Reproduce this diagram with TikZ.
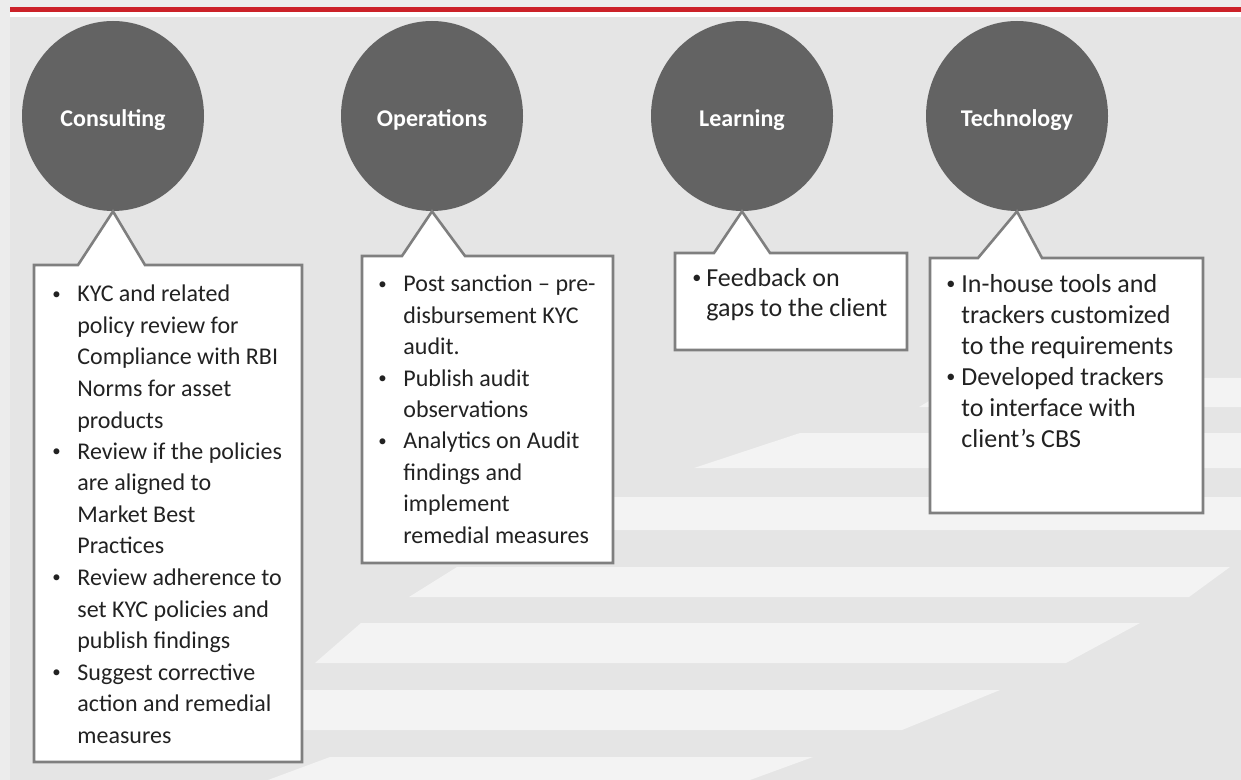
\documentclass[tikz,border=0pt]{standalone}
\usepackage{fontspec}
\setmainfont{Carlito}
\usepackage{tikz}
\usetikzlibrary{shapes.geometric}

\definecolor{outergray}{HTML}{ECECEC}
\definecolor{panelgray}{HTML}{E5E5E5}
\definecolor{stripegray}{HTML}{F3F3F3}
\definecolor{hubgray}{HTML}{636363}
\definecolor{edgegray}{HTML}{7F7F7F}
\definecolor{barred}{HTML}{CC2229}
\definecolor{txtgray}{HTML}{222222}

% one bullet item: #1 = indent of the text, #2 = lines
\newcommand{\smallbul}{\raisebox{0.12em}{\scalebox{0.7}{\textbullet}}}
\newcommand{\bitem}[2]{\par\noindent\hangindent=#1\hangafter=1\makebox[#1][l]{\smallbul}#2}
\newcommand{\blist}[1]{\parbox[t]{200pt}{\raggedright #1}}

\begin{document}
\begin{tikzpicture}[x=0.5pt, y=-0.5pt,
  hub/.style={ellipse, fill=hubgray, minimum width=91pt, minimum height=95pt,
    inner sep=0pt, text=white, text height=11pt, text depth=0pt,
    font=\bfseries\fontsize{12}{14}\selectfont},
  callout/.style={draw=edgegray, line width=1.3pt, fill=white, line join=miter},
  bullets/.style={anchor=base west, inner sep=0pt, text=txtgray}]
  \useasboundingbox (0,0) rectangle (1241,780);
  % background
  \fill[outergray] (0,0) rectangle (1241,780);
  \fill[white] (10,12) rectangle (1241,17);
  \fill[panelgray] (10,17) rectangle (1241,780);
  \draw[barred, line width=2.3pt] (10,9.5) -- (1241,9.5);
  % faint stripes
  \foreach \yt/\yb/\lt/\lb/\rt/\rb in {378/407/968/919/1241/1241,
      433/468/800/694/1241/1241, 497/530/610/545/1241/1241,
      567/597/457/409/1230/1189, 623/663/361/315/1140/1066,
      690/730/290/230/1000/902, 757/780/330/268/813/750}
    \fill[stripegray] (\lt,\yt) -- (\rt,\yt) -- (\rb,\yb) -- (\lb,\yb) -- cycle;

  % the four hubs
  \node[hub] (cons) at (113,116) {Consulting};
  \node[hub] (oper) at (432,116) {Operations};
  \node[hub] (lear) at (742,116) {Learning};
  \node[hub] (tech) at (1017,116) {Technology};

  % callouts
  \draw[callout] (34,265) -- (78,265) -- (cons.south) -- (145,265) -- (302,265)
    -- (302,762) -- (34,762) -- cycle;
  \draw[callout] (362,256) -- (402,256) -- (oper.south) -- (465,256) -- (613,256)
    -- (613,563) -- (362,563) -- cycle;
  \draw[callout] (675,253) -- (714,253) -- (lear.south) -- (770,253) -- (907,253)
    -- (907,350) -- (675,350) -- cycle;
  \draw[callout] (930,258) -- (978,258) -- (tech.south) -- (1042,258) -- (1203,258)
    -- (1203,513) -- (930,513) -- cycle;

  % texts
  \node[bullets, font=\fontsize{12}{15.75}\selectfont] (consTxt) at (52,302) {\blist{%
    \bitem{12.5pt}{KYC and related\newline policy review for\newline Compliance with RBI\newline Norms for asset\newline products}
    \bitem{12.5pt}{Review if the policies\newline are aligned to\newline Market Best\newline Practices}
    \bitem{12.5pt}{Review adherence to\newline set KYC policies and\newline publish findings}
    \bitem{12.5pt}{Suggest corrective\newline action and remedial\newline measures}}};
  \node[bullets, font=\fontsize{12}{15.7}\selectfont] (operTxt) at (378,292) {\blist{%
    \bitem{12.5pt}{Post sanction -- pre-\newline disbursement KYC\newline audit.}
    \bitem{12.5pt}{Publish audit\newline observations}
    \bitem{12.5pt}{Analytics on Audit\newline findings and\newline implement\newline remedial measures}}};
  \node[bullets, font=\fontsize{13}{15}\selectfont] (learTxt) at (692,287) {\blist{%
    \bitem{7pt}{Feedback on\newline gaps to the client}}};
  \node[bullets, font=\fontsize{13}{15.5}\selectfont] (techTxt) at (946,293) {\blist{%
    \bitem{7.5pt}{In-house tools and\newline trackers customized\newline to the requirements}
    \bitem{7.5pt}{Developed trackers\newline to interface with\newline client’s CBS}}};
\end{tikzpicture}
\end{document}
